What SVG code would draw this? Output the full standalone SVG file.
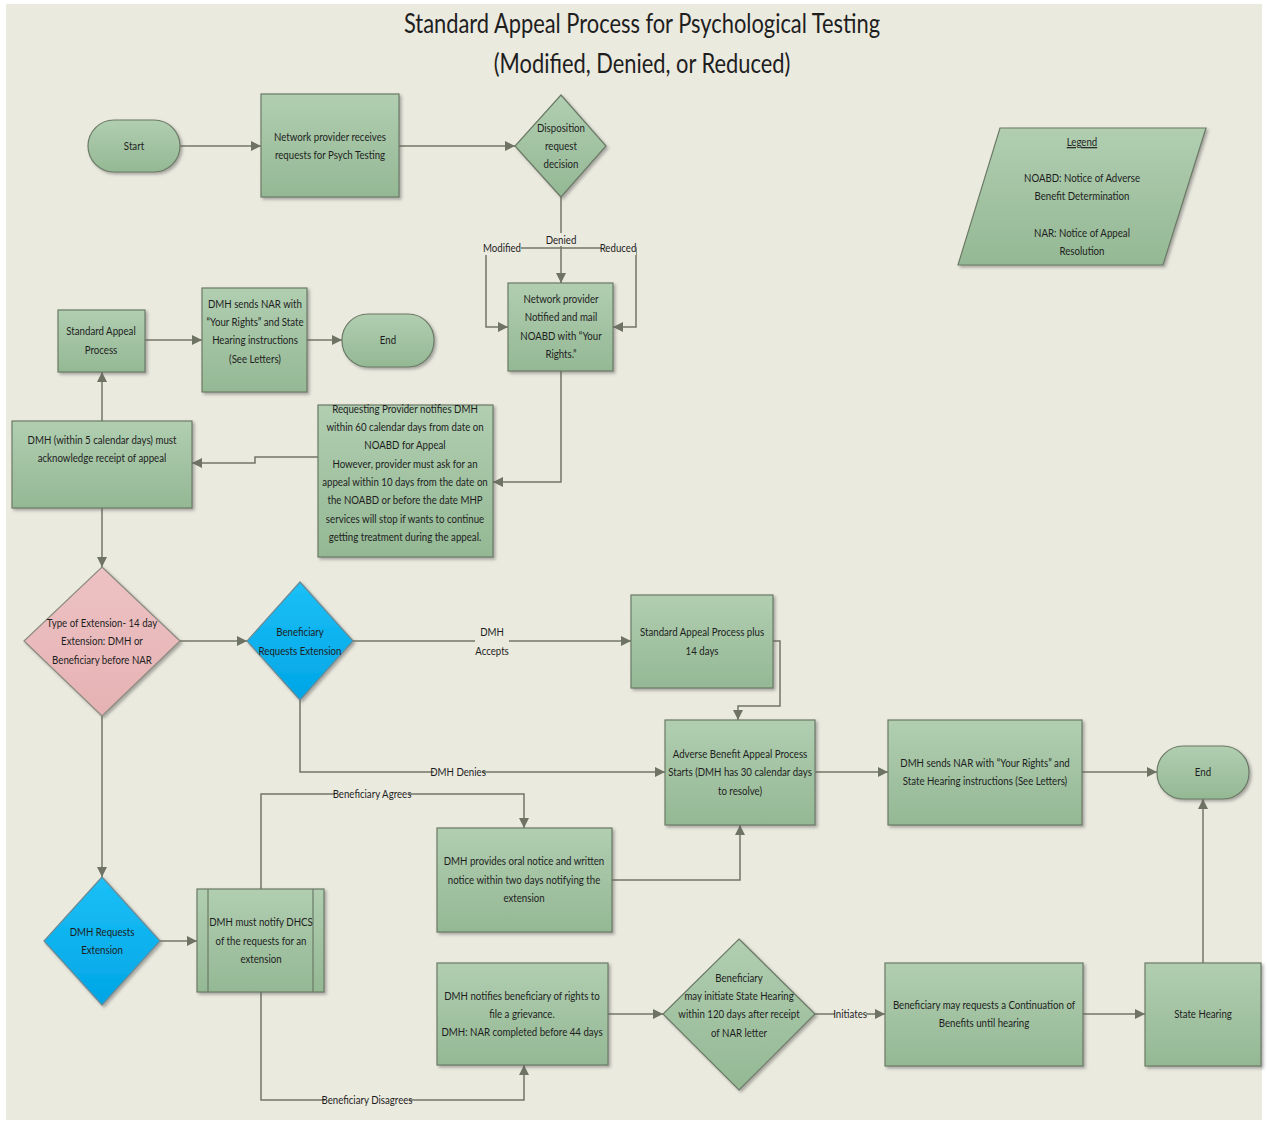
<svg xmlns="http://www.w3.org/2000/svg" width="1267" height="1124" viewBox="0 0 1267 1124">
<defs>
<style>
.t{font-family:Lato,"DejaVu Sans Condensed",sans-serif;font-size:11.8px;fill:#1E1E1E;text-anchor:middle;transform-box:fill-box;transform-origin:center;transform:scaleX(0.82)}
.ti{font-family:Lato,"DejaVu Sans Condensed",sans-serif;font-size:27px;fill:#1E1E1E;text-anchor:middle;transform-box:fill-box;transform-origin:center;transform:scaleX(0.81)}
.box{fill:url(#g);stroke:#6B7A66;stroke-width:1.2;filter:url(#sh)}
.pink{fill:url(#gp);stroke:#8A8A80;stroke-width:1.2;filter:url(#sh)}
.blue{fill:url(#gb);stroke:#6B8A95;stroke-width:1.2;filter:url(#sh)}
.c{fill:none;stroke:#737766;stroke-width:1.5}
.lb{fill:#EBEADF}
</style>
<linearGradient id="g" x1="0" y1="0" x2="0" y2="1"><stop offset="0" stop-color="#B1CEB1"/><stop offset="1" stop-color="#94B894"/></linearGradient>
<linearGradient id="gp" x1="0" y1="0" x2="0" y2="1"><stop offset="0" stop-color="#EDC2C3"/><stop offset="1" stop-color="#E6B2B4"/></linearGradient>
<linearGradient id="gb" x1="0" y1="0" x2="0" y2="1"><stop offset="0" stop-color="#1CC0F7"/><stop offset="1" stop-color="#00A5E6"/></linearGradient>
<filter id="sh" x="-10%" y="-10%" width="130%" height="130%"><feDropShadow dx="2" dy="2" stdDeviation="1.5" flood-color="#555" flood-opacity="0.45"/></filter>
<marker id="a" viewBox="0 0 10 10" refX="10" refY="5" markerWidth="10" markerHeight="10" markerUnits="userSpaceOnUse" orient="auto"><path d="M0,0 L10,5 L0,10 z" fill="#6F7363"/></marker>
</defs>
<rect x="0" y="0" width="1267" height="1124" fill="#FFFFFF"/>
<rect x="6" y="4" width="1256" height="1116" fill="#EBEADF"/>

<g id="title">
<text class="ti" x="642" y="33">Standard Appeal Process for Psychological Testing</text>
<text class="ti" x="642" y="73">(Modified, Denied, or Reduced)</text>
</g>

<g id="connectors">
<path class="c" d="M180,146 H261" marker-end="url(#a)"/>
<path class="c" d="M399,146 H515" marker-end="url(#a)"/>
<path class="c" d="M561,197 V283" marker-end="url(#a)"/>
<path class="c" d="M561,248 H486 V327 H508" marker-end="url(#a)"/>
<path class="c" d="M561,248 H636 V327 H613" marker-end="url(#a)"/>
<path class="c" d="M561,371 V482 H493" marker-end="url(#a)"/>
<path class="c" d="M318,457 H255 V463 H192" marker-end="url(#a)"/>
<path class="c" d="M102,421 V372" marker-end="url(#a)"/>
<path class="c" d="M145,340 H202" marker-end="url(#a)"/>
<path class="c" d="M307,340 H342" marker-end="url(#a)"/>
<path class="c" d="M102,508 V567" marker-end="url(#a)"/>
<path class="c" d="M180,641 H247" marker-end="url(#a)"/>
<path class="c" d="M353,641 H631" marker-end="url(#a)"/>
<path class="c" d="M300,700 V772 H665" marker-end="url(#a)"/>
<path class="c" d="M773,641 H780 V706 H738 V720" marker-end="url(#a)"/>
<path class="c" d="M815,772 H888" marker-end="url(#a)"/>
<path class="c" d="M1082,772 H1157" marker-end="url(#a)"/>
<path class="c" d="M102,716 V877" marker-end="url(#a)"/>
<path class="c" d="M160,941 H197" marker-end="url(#a)"/>
<path class="c" d="M261,889 V794 H524 V828" marker-end="url(#a)"/>
<path class="c" d="M612,880 H740 V825" marker-end="url(#a)"/>
<path class="c" d="M261,992 V1100 H524 V1065" marker-end="url(#a)"/>
<path class="c" d="M608,1014 H663" marker-end="url(#a)"/>
<path class="c" d="M815,1014 H885" marker-end="url(#a)"/>
<path class="c" d="M1083,1014 H1145" marker-end="url(#a)"/>
<path class="c" d="M1203,963 V799" marker-end="url(#a)"/>
<rect class="lb" x="484" y="241" width="37" height="14"/>
<text class="t" x="502" y="252">Modified</text>
<rect class="lb" x="546" y="233" width="30" height="13"/>
<text class="t" x="561" y="244">Denied</text>
<rect class="lb" x="601" y="241" width="35" height="14"/>
<text class="t" x="618" y="252">Reduced</text>
<rect class="lb" x="475" y="624" width="34" height="34"/>
<text class="t" x="492" y="636">DMH</text>
<text class="t" x="492" y="655">Accepts</text>
<rect class="lb" x="434" y="765" width="48" height="14"/>
<text class="t" x="458" y="776">DMH Denies</text>
<rect class="lb" x="335" y="787" width="74" height="14"/>
<text class="t" x="372" y="798">Beneficiary Agrees</text>
<rect class="lb" x="325" y="1093" width="84" height="14"/>
<text class="t" x="367" y="1104">Beneficiary Disagrees</text>
<rect class="lb" x="835" y="1007" width="31" height="14"/>
<text class="t" x="850" y="1018">Initiates</text>
</g>

<g id="start">
<rect class="box" x="88" y="120" width="92" height="52" rx="26"/>
<text class="t" x="134" y="150">Start</text>
</g>
<g id="receives">
<rect class="box" x="261" y="94" width="138" height="103"/>
<text class="t" x="330" y="141">Network provider receives</text>
<text class="t" x="330" y="159">requests for Psych Testing</text>
</g>
<g id="disposition">
<polygon class="box" points="561,95 606,146 561,197 515,146"/>
<text class="t" x="561" y="132">Disposition</text>
<text class="t" x="561" y="150">request</text>
<text class="t" x="561" y="168">decision</text>
</g>
<g id="legend">
<polygon class="box" points="1000,128 1206,128 1163,265 958,265"/>
<text class="t" x="1082" y="146" text-decoration="underline">Legend</text>
<text class="t" x="1082" y="182">NOABD: Notice of Adverse</text>
<text class="t" x="1082" y="200">Benefit Determination</text>
<text class="t" x="1082" y="237">NAR: Notice of Appeal</text>
<text class="t" x="1082" y="255">Resolution</text>
</g>
<g id="notified">
<rect class="box" x="508" y="283" width="105" height="88"/>
<text class="t" x="561" y="303">Network provider</text>
<text class="t" x="561" y="321">Notified and mail</text>
<text class="t" x="561" y="340">NOABD with “Your</text>
<text class="t" x="561" y="358">Rights.”</text>
</g>
<g id="standard-appeal">
<rect class="box" x="58" y="310" width="87" height="62"/>
<text class="t" x="101" y="335">Standard Appeal</text>
<text class="t" x="101" y="354">Process</text>
</g>
<g id="dmh-sends-nar-1">
<rect class="box" x="202" y="288" width="105" height="104"/>
<text class="t" x="255" y="308">DMH sends NAR with</text>
<text class="t" x="255" y="326">“Your Rights” and State</text>
<text class="t" x="255" y="344">Hearing instructions</text>
<text class="t" x="255" y="363">(See Letters)</text>
</g>
<g id="end-1">
<rect class="box" x="342" y="314" width="92" height="53" rx="26"/>
<text class="t" x="388" y="344">End</text>
</g>
<g id="requesting">
<rect class="box" x="318" y="405" width="175" height="152"/>
<text class="t" x="405" y="413">Requesting Provider notifies DMH</text>
<text class="t" x="405" y="431">within 60 calendar days from date on</text>
<text class="t" x="405" y="449">NOABD for Appeal</text>
<text class="t" x="405" y="468">However, provider must ask for an</text>
<text class="t" x="405" y="486">appeal within 10 days from the date on</text>
<text class="t" x="405" y="504">the NOABD or before the date MHP</text>
<text class="t" x="405" y="523">services will stop if wants to continue</text>
<text class="t" x="405" y="541">getting treatment during the appeal.</text>
</g>
<g id="acknowledge">
<rect class="box" x="12" y="421" width="180" height="87"/>
<text class="t" x="102" y="444">DMH (within 5 calendar days) must</text>
<text class="t" x="102" y="462">acknowledge receipt of appeal</text>
</g>
<g id="type-extension">
<polygon class="pink" points="102,567 180,641 102,716 24,641"/>
<text class="t" x="102" y="627">Type of Extension- 14 day</text>
<text class="t" x="102" y="645">Extension: DMH or</text>
<text class="t" x="102" y="664">Beneficiary before NAR</text>
</g>
<g id="beneficiary-requests">
<polygon class="blue" points="300,582 353,641 300,700 247,641"/>
<text class="t" x="300" y="636">Beneficiary</text>
<text class="t" x="300" y="655">Requests Extension</text>
</g>
<g id="plus-14">
<rect class="box" x="631" y="595" width="142" height="93"/>
<text class="t" x="702" y="636">Standard Appeal Process plus</text>
<text class="t" x="702" y="655">14 days</text>
</g>
<g id="adverse">
<rect class="box" x="665" y="720" width="150" height="105"/>
<text class="t" x="740" y="758">Adverse Benefit Appeal Process</text>
<text class="t" x="740" y="776">Starts (DMH has 30 calendar days</text>
<text class="t" x="740" y="795">to resolve)</text>
</g>
<g id="dmh-sends-nar-2">
<rect class="box" x="888" y="720" width="194" height="105"/>
<text class="t" x="985" y="767">DMH sends NAR with “Your Rights” and</text>
<text class="t" x="985" y="785">State Hearing instructions (See Letters)</text>
</g>
<g id="end-2">
<rect class="box" x="1157" y="746" width="92" height="53" rx="26"/>
<text class="t" x="1203" y="776">End</text>
</g>
<g id="oral-notice">
<rect class="box" x="437" y="828" width="175" height="104"/>
<text class="t" x="524" y="865">DMH provides oral notice and written</text>
<text class="t" x="524" y="884">notice within two days notifying the</text>
<text class="t" x="524" y="902">extension</text>
</g>
<g id="dmh-requests">
<polygon class="blue" points="102,877 160,941 102,1005 44,941"/>
<text class="t" x="102" y="936">DMH Requests</text>
<text class="t" x="102" y="954">Extension</text>
</g>
<g id="notify-dhcs">
<rect class="box" x="197" y="889" width="127" height="103"/>
<line x1="208" y1="889" x2="208" y2="992" stroke="#6B7A66" stroke-width="1.2"/>
<line x1="313" y1="889" x2="313" y2="992" stroke="#6B7A66" stroke-width="1.2"/>
<text class="t" x="261" y="926">DMH must notify DHCS</text>
<text class="t" x="261" y="945">of the requests for an</text>
<text class="t" x="261" y="963">extension</text>
</g>
<g id="grievance">
<rect class="box" x="437" y="963" width="171" height="102"/>
<text class="t" x="522" y="1000">DMH notifies beneficiary of rights to</text>
<text class="t" x="522" y="1018">file a grievance.</text>
<text class="t" x="522" y="1036">DMH: NAR completed before 44 days</text>
</g>
<g id="may-initiate">
<polygon class="box" points="739,939 815,1014 739,1090 663,1014"/>
<text class="t" x="739" y="982">Beneficiary</text>
<text class="t" x="739" y="1000">may initiate State Hearing</text>
<text class="t" x="739" y="1018">within 120 days after receipt</text>
<text class="t" x="739" y="1037">of NAR letter</text>
</g>
<g id="continuation">
<rect class="box" x="885" y="963" width="198" height="103"/>
<text class="t" x="984" y="1009">Beneficiary may requests a Continuation of</text>
<text class="t" x="984" y="1027">Benefits until hearing</text>
</g>
<g id="state-hearing">
<rect class="box" x="1145" y="963" width="116" height="103"/>
<text class="t" x="1203" y="1018">State Hearing</text>
</g>
</svg>
